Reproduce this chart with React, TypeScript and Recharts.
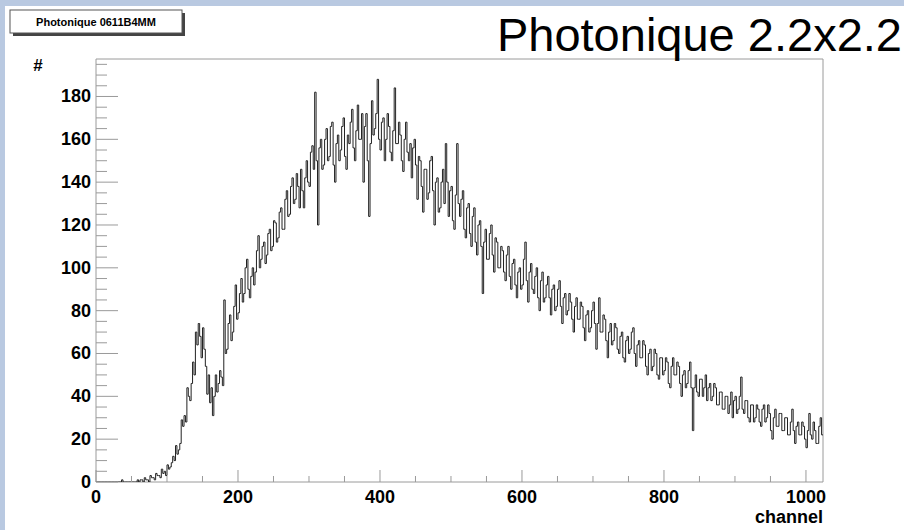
import { LineChart, Line, XAxis, YAxis, ReferenceArea } from "recharts";

// counts per 2-channel bin (bin start = index * 2)
const BIN_WIDTH = 2;
const counts = [
  0, 0, 0, 0, 0, 0, 0, 0, 0, 0, 0, 0, 0, 0, 0, 0,
  0, 0, 1, 0, 0, 0, 0, 0, 0, 0, 0, 0, 0, 1, 0, 1,
  1, 0, 2, 1, 1, 0, 3, 2, 2, 1, 4, 3, 3, 2, 6, 4,
  5, 3, 8, 6, 7, 9, 12, 10, 17, 13, 15, 18, 29, 26, 31, 28,
  44, 40, 38, 46, 56, 50, 70, 64, 74, 68, 58, 72, 62, 54, 41, 50,
  37, 44, 31, 40, 50, 42, 46, 52, 49, 45, 85, 60, 62, 74, 78, 66,
  70, 82, 92, 76, 79, 88, 95, 84, 88, 100, 104, 90, 86, 96, 100, 92,
  98, 108, 115, 100, 104, 110, 112, 102, 106, 116, 118, 108, 110, 122, 121, 112,
  114, 126, 128, 118, 118, 132, 136, 124, 125, 138, 142, 130, 132, 144, 138, 128,
  146, 136, 128, 142, 150, 140, 138, 154, 157, 146, 182, 150, 120, 156, 160, 146,
  148, 160, 165, 150, 152, 166, 168, 148, 140, 158, 162, 150, 155, 166, 170, 152,
  146, 162, 158, 168, 174, 156, 150, 164, 176, 160, 160, 172, 140, 166, 172, 150,
  124, 158, 178, 162, 165, 172, 188, 160, 155, 168, 170, 150, 160, 172, 166, 154,
  150, 164, 184, 158, 158, 168, 162, 150, 145, 160, 168, 154, 150, 158, 142, 156,
  160, 148, 132, 152, 150, 138, 126, 146, 146, 132, 135, 150, 152, 136, 120, 140,
  142, 126, 128, 140, 146, 130, 158, 140, 124, 136, 138, 122, 118, 134, 158, 130,
  124, 132, 136, 118, 114, 128, 130, 116, 110, 124, 128, 112, 106, 120, 122, 110,
  88, 112, 118, 104, 104, 116, 120, 106, 98, 114, 112, 100, 100, 110, 108, 98,
  94, 106, 110, 96, 90, 102, 104, 92, 86, 98, 100, 90, 92, 104, 112, 94,
  84, 98, 102, 90, 88, 96, 100, 86, 80, 94, 98, 84, 86, 92, 96, 86,
  78, 90, 92, 80, 82, 90, 94, 82, 74, 86, 88, 78, 80, 88, 84, 76,
  70, 82, 86, 76, 76, 84, 82, 72, 66, 78, 80, 70, 72, 80, 84, 74,
  62, 74, 86, 70, 70, 78, 76, 66, 58, 70, 74, 64, 66, 74, 72, 62,
  60, 68, 70, 58, 56, 66, 68, 60, 62, 70, 72, 60, 54, 64, 66, 58,
  58, 66, 64, 54, 50, 60, 62, 52, 54, 62, 60, 50, 48, 58, 58, 50,
  52, 58, 56, 46, 44, 54, 58, 50, 50, 56, 54, 46, 40, 50, 52, 44,
  46, 52, 56, 44, 24, 44, 50, 42, 40, 48, 48, 40, 44, 50, 38, 44,
  46, 38, 40, 46, 44, 36, 36, 42, 42, 34, 34, 40, 40, 32, 36, 42,
  30, 38, 40, 32, 34, 40, 49, 34, 32, 38, 38, 30, 28, 36, 36, 28,
  30, 36, 34, 28, 26, 34, 36, 28, 30, 36, 32, 24, 20, 30, 34, 26,
  26, 32, 32, 24, 24, 30, 30, 22, 22, 28, 34, 24, 18, 26, 28, 22,
  22, 28, 26, 20, 16, 24, 32, 22, 20, 28, 24, 18, 18, 26, 30, 22,
];
const X_MAX = 1024;
const Y_MAX = 197.5;
const xTicks = [0, 50, 100, 150, 200, 250, 300, 350, 400, 450, 500, 550, 600, 650, 700, 750, 800, 850, 900, 950, 1000];
const xMajor = [0, 200, 400, 600, 800, 1000];
const yTicks = [0, 5, 10, 15, 20, 25, 30, 35, 40, 45, 50, 55, 60, 65, 70, 75, 80, 85, 90, 95, 100, 105, 110, 115, 120, 125, 130, 135, 140, 145, 150, 155, 160, 165, 170, 175, 180, 185, 190, 195];
const yMajor = [0, 20, 40, 60, 80, 100, 120, 140, 160, 180];

const data = counts
  .map((c, i) => ({ channel: i * BIN_WIDTH, count: c }))
  .concat({ channel: X_MAX, count: counts[counts.length - 1] });

const FONT = "'Liberation Sans', Arial, Helvetica, sans-serif";
const AXIS_GREY = "#9a9a9a";

function XTick(props: any) {
  const { x, y, payload } = props;
  const major = xMajor.includes(payload.value);
  return (
    <g>
      <line x1={x} x2={x} y1={y} y2={y - (major ? 12 : 6)} stroke={AXIS_GREY} />
      {major && (
        <text x={x} y={y + 21} textAnchor="middle" fontSize={18} fontWeight="bold" fontFamily={FONT} fill="#000">
          {payload.value}
        </text>
      )}
    </g>
  );
}

function YTick(props: any) {
  const { x, y, payload } = props;
  const major = yMajor.includes(payload.value);
  return (
    <g>
      <line x1={x} x2={x + (major ? 22 : 11)} y1={y} y2={y} stroke={AXIS_GREY} />
      {major && (
        <text x={x - 5} y={y + 6} textAnchor="end" fontSize={18} fontWeight="bold" fontFamily={FONT} fill="#000">
          {payload.value}
        </text>
      )}
    </g>
  );
}

export default function App() {
  return (
    <div style={{ position: "absolute", left: 0, top: 0, width: 904, height: 530, background: "#fff", overflow: "hidden" }}>
      <div style={{ position: "absolute", left: 0, top: 0, width: 904, height: 6, background: "#b9c9e1" }} />
      <div style={{ position: "absolute", left: 0, top: 0, width: 5, height: 530, background: "#b9c9e1" }} />
      <div style={{ position: "absolute", left: 0, top: 0 }}>
        <LineChart width={904} height={530} data={data} margin={{ top: 59, right: 81, left: 56, bottom: 18 }}>
          <ReferenceArea x1={0} x2={X_MAX} y1={0} y2={Y_MAX} fill="none" stroke={AXIS_GREY} strokeWidth={1} />
          <XAxis
            dataKey="channel"
            type="number"
            domain={[0, X_MAX]}
            ticks={xTicks}
            interval={0}
            height={30}
            tickSize={0}
            tickMargin={0}
            axisLine={false}
            tickLine={false}
            tick={<XTick />}
            allowDataOverflow
          />
          <YAxis
            type="number"
            domain={[0, Y_MAX]}
            ticks={yTicks}
            interval={0}
            width={40}
            tickSize={0}
            tickMargin={0}
            axisLine={false}
            tickLine={false}
            tick={<YTick />}
            allowDataOverflow
          />
          <Line
            dataKey="count"
            type="stepAfter"
            stroke="#222"
            strokeWidth={1}
            dot={false}
            isAnimationActive={false}
          />
        </LineChart>
      </div>
      <svg width={904} height={530} style={{ position: "absolute", left: 0, top: 0, pointerEvents: "none" }}>
        <rect x={13} y={13} width={172} height={23} fill="#444" />
        <rect x={10} y={10} width={172} height={23} fill="#fff" stroke="#555" strokeWidth={1} />
        <text x={96} y={26} textAnchor="middle" fontSize={11} fontWeight="bold" fontFamily={FONT} fill="#000">
          Photonique 0611B4MM
        </text>
        <text x={902} y={51} textAnchor="end" fontSize={47} fontFamily={FONT} fill="#000">
          Photonique 2.2x2.2
        </text>
        <text x={38} y={71} textAnchor="middle" fontSize={17} fontWeight="bold" fontFamily={FONT} fill="#000">
          #
        </text>
        <text x={823} y={523} textAnchor="end" fontSize={18} fontWeight="bold" fontFamily={FONT} fill="#000">
          channel
        </text>
      </svg>
    </div>
  );
}
